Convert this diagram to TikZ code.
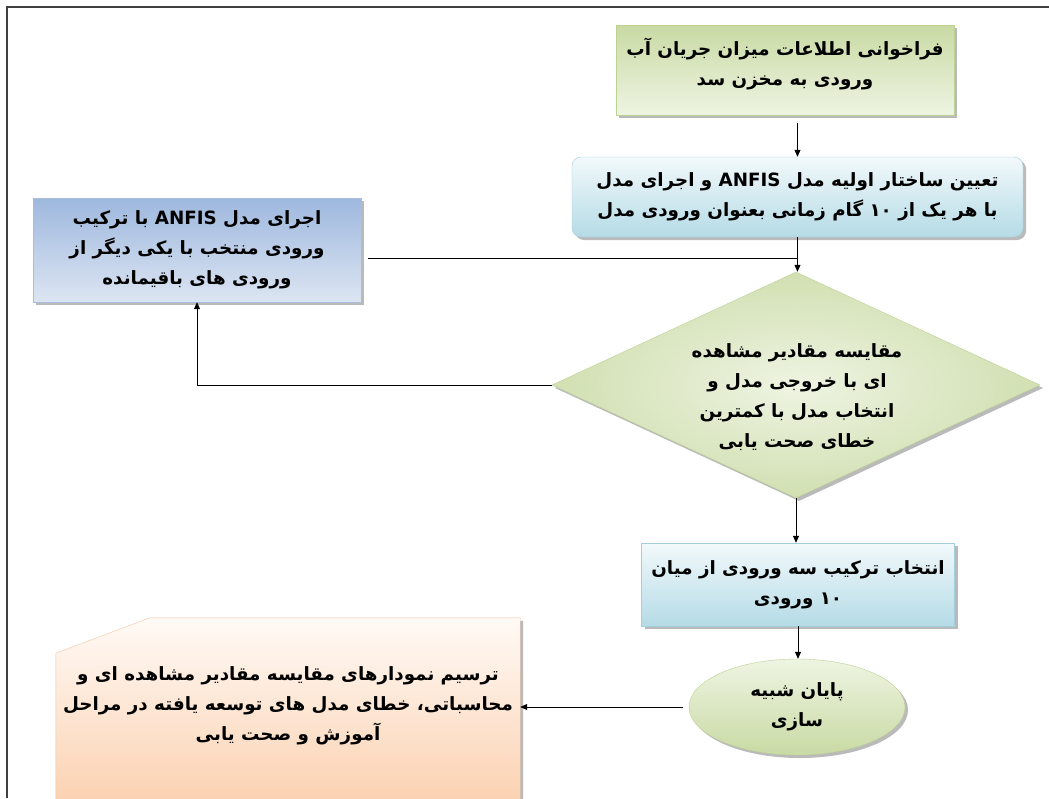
\documentclass[tikz,border=0pt]{standalone}
\usepackage{fontspec}
\TeXXeTstate=1
\newfontfamily\arabicfont[Script=Arabic]{DejaVu Sans}
\usetikzlibrary{arrows.meta,shapes.geometric,shadows}
\newcommand{\fa}[1]{\beginR #1\endR}
\definecolor{gTop}{HTML}{C9DAA4}
\definecolor{gBot}{HTML}{EEF4E2}
\definecolor{gLine}{HTML}{BCD292}
\definecolor{bTop}{HTML}{F2F9FB}
\definecolor{bBot}{HTML}{B5DBE6}
\definecolor{bLine}{HTML}{A3CEDB}
\definecolor{lTop}{HTML}{9EB8DE}
\definecolor{lBot}{HTML}{DCE5F2}
\definecolor{lLine}{HTML}{A9BEDC}
\definecolor{oTop}{HTML}{FFFAF6}
\definecolor{oBot}{HTML}{FBD2B2}
\definecolor{oLine}{HTML}{F3C6A3}
\begin{document}
\begin{tikzpicture}[x=1pt,y=-1pt,
  txt/.style={font=\arabicfont\bfseries\fontsize{18.3}{30}\selectfont, align=center, text=black},
  shad/.style={drop shadow={shadow xshift=3pt, shadow yshift=-3pt, opacity=0.45, fill=black!60}},
  greenbox/.style={txt, shad, draw=gLine, top color=gTop, bottom color=gBot, inner sep=0pt},
  bluebox/.style={txt, shad, draw=bLine, top color=bTop, bottom color=bBot, inner sep=0pt},
  leftbox/.style={txt, shad, draw=lLine, top color=lTop, bottom color=lBot, inner sep=0pt},
  arr/.style={draw=black, line width=0.8pt, -{Triangle[length=7pt,width=6pt]}},
  ln/.style={draw=black, line width=0.8pt}
]
\useasboundingbox (0,0) rectangle (1049,798);
\fill[white] (0,0) rectangle (1049,798);
% frame
\draw[line width=2.2pt, black!75] (7,798) -- (7,7) -- (1049,7);

\node[greenbox, minimum width=338, minimum height=90] (n1) at (785,70) {};
\node[txt] (n1t) at (785,64)
  {\fa{فراخوانی اطلاعات میزان جریان آب}\\\fa{ورودی به مخزن سد}};

\node[bluebox, rounded corners=9pt, minimum width=451, minimum height=80] (n2) at (797.5,197)
  {\fa{تعیین ساختار اولیه مدل ANFIS و اجرای مدل}\\\fa{با هر یک از ۱۰ گام زمانی بعنوان ورودی مدل}};

\node[leftbox, minimum width=328, minimum height=104] (n3) at (197,250)
  {\fa{اجرای مدل ANFIS با ترکیب}\\\fa{ورودی منتخب با یکی دیگر از}\\\fa{ورودی های باقیمانده}};

\node[shad, diamond, draw=gLine, inner color=gBot, outer color=gTop!85!white, inner sep=0pt,
      minimum width=488, minimum height=226] (n4) at (796,385) {};
\node[txt] (n4t) at (797,397)
  {\fa{مقایسه مقادیر مشاهده}\\\fa{ای با خروجی مدل و}\\\fa{انتخاب مدل با کمترین}\\\fa{خطای صحت یابی}};

\node[bluebox, minimum width=313, minimum height=83] (n5) at (798,584.5)
  {\fa{انتخاب ترکیب سه ورودی از میان}\\\fa{۱۰ ورودی}};

\node[txt, shad, ellipse, draw=gLine, top color=gBot, bottom color=gTop, inner sep=0pt,
      minimum width=216, minimum height=96] (n6) at (797,707)
  {\fa{پایان شبیه}\\\fa{سازی}};

% result box (chamfered top-left corner)
\node[txt, minimum width=464, minimum height=182, inner sep=0pt] (n7) at (288,709) {};
\shade[shad, draw=oLine, top color=oTop, bottom color=oBot]
  (n7.north west) ++(94,0) -- (n7.north east) -- (n7.south east) -- (n7.south west)
  -- ++(0,-147) -- cycle;
\node[txt] (t7) at (288,706)
  {\fa{ترسیم نمودارهای مقایسه مقادیر مشاهده ای و}\\\fa{محاسباتی، خطای مدل های توسعه یافته در مراحل}\\\fa{آموزش و صحت یابی}};

% connectors
\coordinate (s1) at ([yshift=-8]n1.south -| n2.north);
\draw[arr] (s1) -- (n2.north);
\draw[arr] (n2.south) -- (n2.south |- n4.north);
\coordinate (j) at ([yshift=-21]n2.south);
\coordinate (s3) at ([xshift=7]n3.east |- j);
\draw[ln] (s3) -- (j);
\draw[arr] (n4.west) -- (n4.west -| n3.south) -- (n3.south);
\draw[arr] (n4.south) -- (n4.south |- n5.north);
\draw[arr] (n5.south) -- (n5.south |- n6.north);
\coordinate (s6) at ([xshift=-6]n6.west);
\draw[arr] (s6) -- (s6 -| n7.east);
\end{tikzpicture}
\end{document}
